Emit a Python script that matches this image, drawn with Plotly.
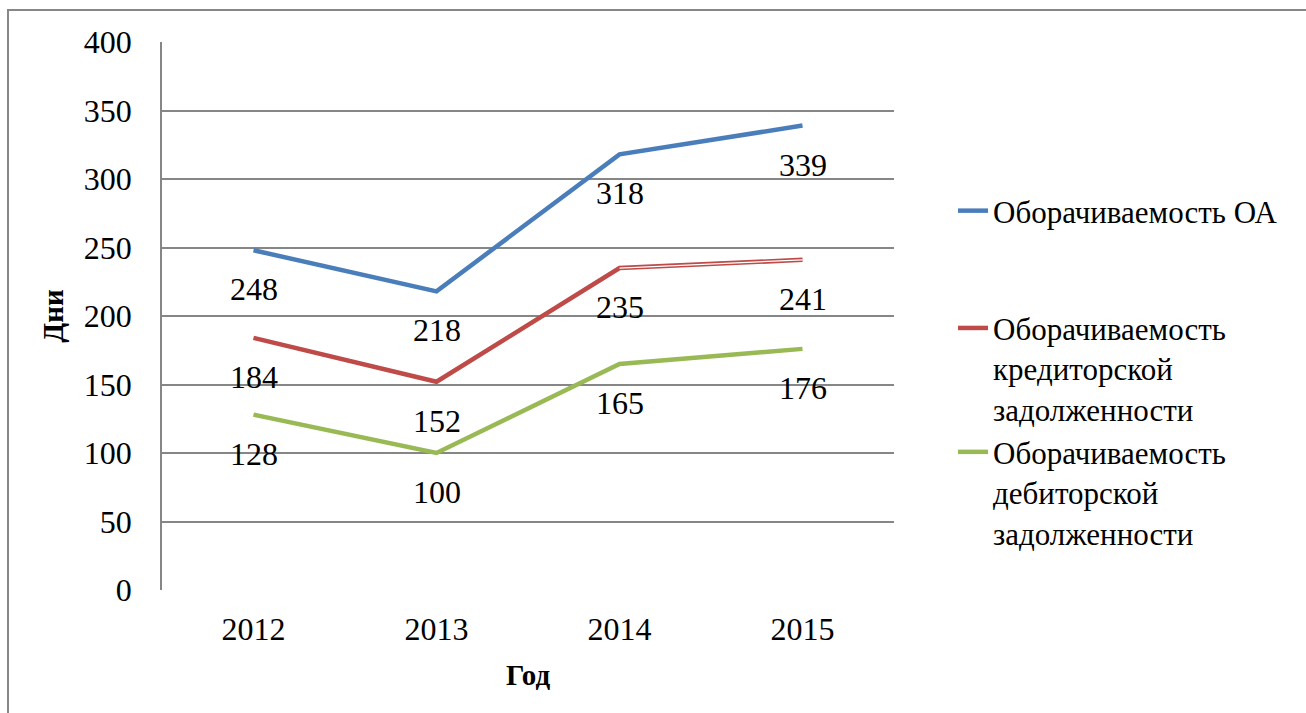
import plotly.graph_objects as go

# Turnover periods, days
years = ["2012", "2013", "2014", "2015"]
turnover_ca = [248, 218, 318, 339]
turnover_payables = [184, 152, 235, 241]
turnover_receivables = [128, 100, 165, 176]

y_ticks = [0, 50, 100, 150, 200, 250, 300, 350, 400]

FONT = "Liberation Serif, Times New Roman, serif"
W, H = 1306, 713
L, R, T, B = 162, 412, 42, 123
PW, PH = W - L - R, H - T - B

def px_x(px):
    return (px - L) / PW

def px_y(py):
    return (H - B - py) / PH

series = [
    ("Оборачиваемость ОА", turnover_ca, "#4A7EBB", "a"),
    ("Оборачиваемость<br>кредиторской<br>задолженности", turnover_payables, "#BE4B48", "b"),
    ("Оборачиваемость<br>дебиторской<br>задолженности", turnover_receivables, "#98B954", "b"),
]

fig = go.Figure()
for name, vals, color, grp in series:
    fig.add_trace(go.Scatter(
        x=years, y=vals, mode="lines", name=name,
        line=dict(color=color, width=4.5),
        legendgroup=grp,
    ))

# thin white core on the last payables segment (double-line stroke)
fig.add_trace(go.Scatter(
    x=years[2:], y=turnover_payables[2:], mode="lines",
    line=dict(color="white", width=1.3), showlegend=False, hoverinfo="skip",
))

# value labels below each point (category index used as x position)
for name, vals, color, grp in series:
    for i, v in enumerate(vals):
        fig.add_annotation(
            x=i, y=v, xref="x", yref="y", text=str(v), showarrow=False,
            yshift=-39, font=dict(family=FONT, size=32, color="black"),
        )

# outer frame
fig.add_shape(
    type="rect", xref="paper", yref="paper",
    x0=px_x(8), x1=px_x(1320), y0=px_y(730), y1=px_y(10),
    line=dict(color="#878787", width=2), fillcolor="rgba(0,0,0,0)", layer="below",
)

fig.update_layout(
    width=W, height=H,
    margin=dict(l=L, r=R, t=T, b=B, pad=0),
    paper_bgcolor="white", plot_bgcolor="white",
    font=dict(family=FONT, size=32, color="black"),
    xaxis=dict(
        type="category", range=[-0.5, 3.5],
        showgrid=False, zeroline=False, showline=False,
        ticks="", ticklabelstandoff=17,
        tickfont=dict(family=FONT, size=32, color="black"),
        title=dict(text="<b>Год</b>", font=dict(family=FONT, size=29, color="black"), standoff=18),
    ),
    yaxis=dict(
        range=[0, 400], tickvals=y_ticks,
        showgrid=True, gridcolor="#868686", gridwidth=1.5,
        zeroline=False, showline=True, linecolor="#868686", linewidth=1.5,
        ticks="", ticklabelstandoff=22,
        tickfont=dict(family=FONT, size=32, color="black"),
        title=dict(text="<b>Дни</b>", font=dict(family=FONT, size=29, color="black"), standoff=12),
    ),
    legend=dict(
        x=px_x(953), xanchor="left",
        y=px_y(184), yanchor="top",
        font=dict(family=FONT, size=31, color="black"),
        tracegroupgap=74, valign="top",
        bgcolor="rgba(0,0,0,0)", borderwidth=0,
        traceorder="grouped",
    ),
    showlegend=True,
)

fig.write_html("out.html")
